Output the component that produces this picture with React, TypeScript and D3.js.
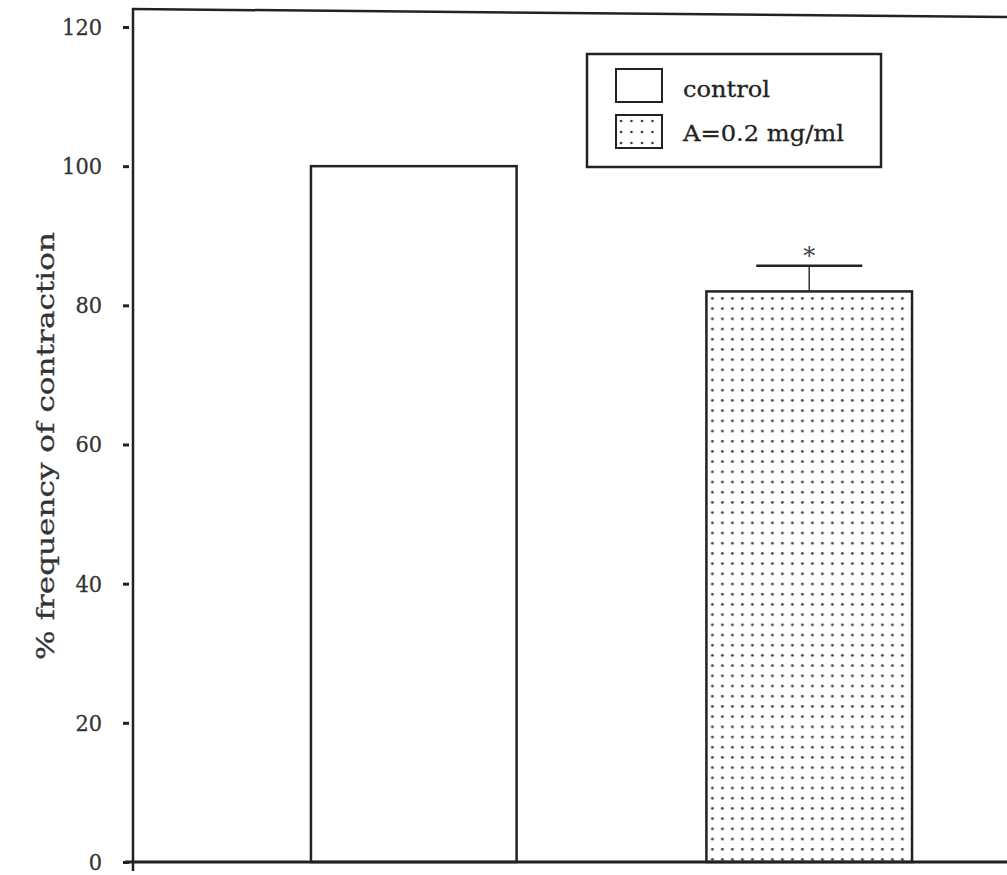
import React, { useEffect, useRef } from "react";
import * as d3 from "d3";

// chart data
const categories = ["control", "A=0.2 mg/ml"];
const values = [100, 82];
const sems = [0, 3.7];
const significant = [false, true];
const yTicks = [0, 20, 40, 60, 80, 100, 120];
const yLabel = "% frequency of contraction";

const W = 1007;
const H = 875;
const FONT = "'DejaVu Serif', 'Liberation Serif', serif";

const App = () => {
  const ref = useRef<SVGSVGElement>(null);

  useEffect(() => {
    const svg = d3.select(ref.current);
    svg.selectAll("*").remove();

    const x0 = 133;
    const y = d3.scaleLinear().domain([0, 120]).range([862, 27]);
    // the original plot runs past the right edge of the scan
    const x = d3
      .scaleBand()
      .domain(categories)
      .range([x0, 1090])
      .paddingInner(0.48)
      .paddingOuter(0.45);

    // dotted fill
    const defs = svg.append("defs");
    const pat = defs
      .append("pattern")
      .attr("id", "dots")
      .attr("patternUnits", "userSpaceOnUse")
      .attr("width", 10)
      .attr("height", 10.2)
      .attr("x", x(categories[1])! + 1)
      .attr("y", y(values[1]) + 2);
    pat.append("rect").attr("width", 10).attr("height", 10.2).attr("fill", "#fff");
    pat.append("circle").attr("cx", 5).attr("cy", 5).attr("r", 1.35).attr("fill", "#333");

    const legendPat = defs
      .append("pattern")
      .attr("id", "dotsLegend")
      .attr("patternUnits", "userSpaceOnUse")
      .attr("width", 10.5)
      .attr("height", 11)
      .attr("x", 617)
      .attr("y", 116);
    legendPat.append("rect").attr("width", 10.5).attr("height", 11).attr("fill", "#fff");
    legendPat.append("circle").attr("cx", 4).attr("cy", 5).attr("r", 1.3).attr("fill", "#333");

    const fills = ["#fff", "url(#dots)"];

    // bars
    svg
      .selectAll("rect.bar")
      .data(categories)
      .enter()
      .append("rect")
      .attr("class", "bar")
      .attr("x", (d) => x(d)!)
      .attr("y", (d, i) => y(values[i]))
      .attr("width", x.bandwidth())
      .attr("height", (d, i) => y(0) - y(values[i]))
      .attr("fill", (d, i) => fills[i])
      .attr("stroke", "#222")
      .attr("stroke-width", 2.5);

    // error bars (upper half only)
    categories.forEach((c, i) => {
      if (!sems[i]) return;
      const cx = x(c)! + x.bandwidth() / 2;
      const top = y(values[i] + sems[i]);
      svg
        .append("line")
        .attr("x1", cx)
        .attr("x2", cx)
        .attr("y1", y(values[i]))
        .attr("y2", top)
        .attr("stroke", "#333")
        .attr("stroke-width", 1.5);
      svg
        .append("line")
        .attr("x1", cx - 53)
        .attr("x2", cx + 53)
        .attr("y1", top)
        .attr("y2", top)
        .attr("stroke", "#222")
        .attr("stroke-width", 2.5);
      if (significant[i]) {
        svg
          .append("text")
          .attr("x", cx)
          .attr("y", top - 2)
          .attr("text-anchor", "middle")
          .attr("font-family", FONT)
          .attr("font-size", 24)
          .attr("fill", "#444")
          .text("*");
      }
    });

    // y axis
    const yAxis = svg
      .append("g")
      .attr("transform", `translate(${x0},0)`)
      .call(d3.axisLeft(y).tickValues(yTicks).tickSize(8));
    yAxis.select(".domain").remove();
    yAxis
      .selectAll(".tick line")
      .attr("stroke", "#222")
      .attr("stroke-width", 3)
      .attr("x1", -10)
      .attr("x2", -4);
    yAxis
      .selectAll<SVGTextElement, number>(".tick text")
      .attr("text-anchor", "start")
      .attr("x", (d) => -31 - String(d).length * 13.3)
      .attr("font-family", FONT)
      .attr("font-size", 23)
      .attr("fill", "#333")
      .attr("stroke", "#333")
      .attr("stroke-width", 0.3)
      .attr("textLength", (d) => String(d).length * 13.3)
      .attr("lengthAdjust", "spacingAndGlyphs");

    // frame lines
    svg
      .append("line")
      .attr("x1", x0)
      .attr("x2", x0)
      .attr("y1", 8)
      .attr("y2", 871)
      .attr("stroke", "#222")
      .attr("stroke-width", 2.5);
    svg
      .append("line")
      .attr("x1", x0 - 1)
      .attr("x2", W)
      .attr("y1", 9)
      .attr("y2", 17)
      .attr("stroke", "#222")
      .attr("stroke-width", 2.5);
    svg
      .append("line")
      .attr("x1", x0 - 8)
      .attr("x2", W)
      .attr("y1", y(0))
      .attr("y2", y(0))
      .attr("stroke", "#222")
      .attr("stroke-width", 3);

    // y label
    svg
      .append("text")
      .attr("transform", `translate(45,${446}) rotate(-90)`)
      .attr("text-anchor", "middle")
      .attr("dominant-baseline", "central")
      .attr("font-family", FONT)
      .attr("font-size", 25)
      .attr("fill", "#333")
      .attr("stroke", "#333")
      .attr("stroke-width", 0.3)
      .attr("textLength", 428)
      .attr("lengthAdjust", "spacingAndGlyphs")
      .text(yLabel);

    // legend
    const lg = svg.append("g");
    lg.append("rect")
      .attr("x", 587)
      .attr("y", 54)
      .attr("width", 294)
      .attr("height", 113)
      .attr("fill", "#fff")
      .attr("stroke", "#222")
      .attr("stroke-width", 2.5);
    const legendWidths = [87, 161];
    categories.forEach((c, i) => {
      const ly = 69 + i * 46;
      lg.append("rect")
        .attr("x", 616)
        .attr("y", ly)
        .attr("width", 46)
        .attr("height", 33)
        .attr("fill", i === 0 ? "#fff" : "url(#dotsLegend)")
        .attr("stroke", "#222")
        .attr("stroke-width", 2);
      lg.append("text")
        .attr("x", 683)
        .attr("y", 97 + i * 44)
        .attr("font-family", FONT)
        .attr("font-size", 23)
        .attr("fill", "#222")
        .attr("stroke", "#222")
        .attr("stroke-width", 0.3)
        .attr("textLength", legendWidths[i])
        .attr("lengthAdjust", "spacingAndGlyphs")
        .text(c);
    });
  }, []);

  return (
    <svg
      ref={ref}
      width={W}
      height={H}
      style={{ position: "absolute", left: 0, top: 0, background: "#fff" }}
    ></svg>
  );
};

export default App;
